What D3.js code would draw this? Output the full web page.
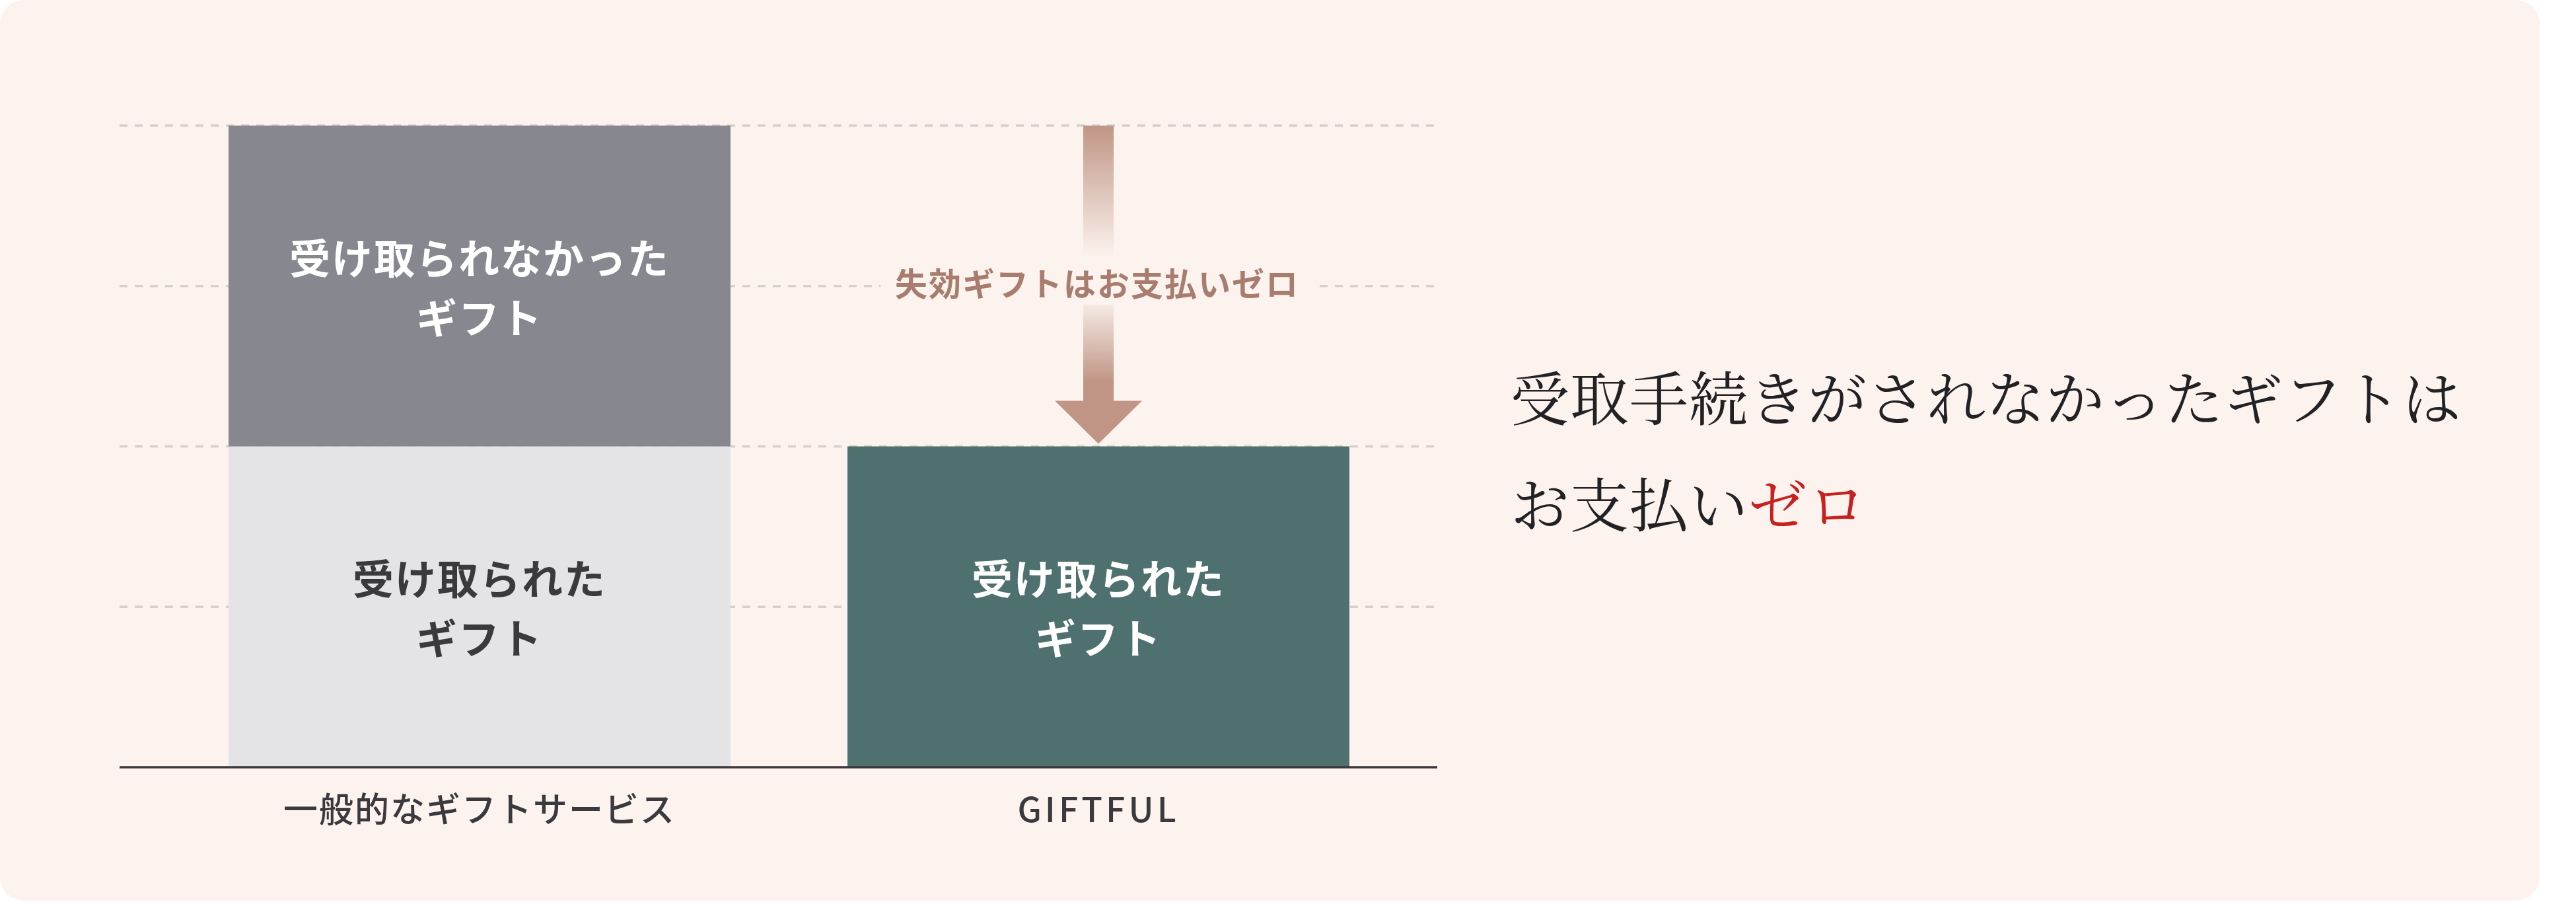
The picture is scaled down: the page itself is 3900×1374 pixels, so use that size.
<!DOCTYPE html>
<html>
<head>
<meta charset="utf-8">
<script src="https://cdn.jsdelivr.net/npm/d3@7"></script>
<style>
  body { margin: 0; background: #ffffff; }
  svg { display: block; }
</style>
</head>
<body>
<svg id="chart" width="3900" height="1374"></svg>
<script>
"use strict";

// data
const categories = ["一般的なギフトサービス", "GIFTFUL"];
const received = [2, 2];
const unreceived = [2, 0];
const gridTicks = [1, 2, 3, 4];
const receivedLabel = ["受け取られた", "ギフト"];
const unreceivedLabel = ["受け取られなかった", "ギフト"];
const arrowLabel = "失効ギフトはお支払いゼロ";
const headline = ["受取手続きがされなかったギフトは", "お支払い"];
const headlineAccent = "ゼロ";

const sansJP = "'Noto Sans CJK JP', 'Noto Sans', sans-serif";
const serifJP = "'Noto Serif CJK JP', 'Noto Sans CJK JP', serif";

const svg = d3.select("#chart");

// card background
svg.append("rect")
    .attr("x", 0).attr("y", 0)
    .attr("width", 3845).attr("height", 1363)
    .attr("rx", 36).attr("ry", 36)
    .attr("fill", "#fcf3ee");

const x = d3.scaleBand()
    .domain(categories)
    .range([346, 2043])
    .paddingInner(0.189)
    .paddingOuter(0);

const y = d3.scaleLinear()
    .domain([0, 4])
    .range([1161, 190]);

const gridLeft = 181, gridRight = 2176;

// dashed grid
svg.append("g")
    .selectAll("line")
    .data(gridTicks)
    .enter().append("line")
    .attr("x1", gridLeft).attr("x2", gridRight)
    .attr("y1", d => y(d)).attr("y2", d => y(d))
    .attr("stroke", "#d6d0cb")
    .attr("stroke-width", 3.5)
    .attr("stroke-dasharray", "12 11");

// stacked bars
const rows = categories.map((c, i) => ({
    cat: c, received: received[i], unreceived: unreceived[i]
}));
const stack = d3.stack().keys(["received", "unreceived"]);
const layers = stack(rows);
const fills = {
    received: ["#e4e4e6", "#4e716f"],
    unreceived: ["#87878f", "#87878f"]
};
const textFills = {
    received: ["#3a393e", "#ffffff"],
    unreceived: ["#ffffff", "#ffffff"]
};
const labels = { received: receivedLabel, unreceived: unreceivedLabel };

layers.forEach((layer) => {
    const key = layer.key;
    const g = svg.append("g").attr("class", "layer-" + key);
    const segs = g.selectAll("g")
        .data(layer.filter(d => d[1] > d[0]))
        .enter().append("g");
    segs.append("rect")
        .attr("x", d => x(d.data.cat))
        .attr("width", x.bandwidth())
        .attr("y", d => y(d[1]))
        .attr("height", d => y(d[0]) - y(d[1]))
        .attr("fill", d => fills[key][categories.indexOf(d.data.cat)]);
    segs.append("text")
        .attr("x", d => x(d.data.cat) + x.bandwidth() / 2)
        .attr("y", d => (y(d[0]) + y(d[1])) / 2)
        .attr("text-anchor", "middle")
        .attr("font-family", sansJP)
        .attr("font-weight", 700)
        .attr("font-size", 62)
        .attr("letter-spacing", 2)
        .attr("fill", d => textFills[key][categories.indexOf(d.data.cat)])
        .selectAll("tspan")
        .data(labels[key])
        .enter().append("tspan")
        .attr("x", function () { return d3.select(this.parentNode).attr("x"); })
        .attr("dy", (d, i) => i === 0 ? -18 : 90)
        .text(d => d);
});

// baseline
svg.append("line")
    .attr("x1", gridLeft).attr("x2", gridRight)
    .attr("y1", y(0)).attr("y2", y(0))
    .attr("stroke", "#3b393d")
    .attr("stroke-width", 3.5);

// category labels
svg.append("g")
    .selectAll("text")
    .data(categories)
    .enter().append("text")
    .attr("x", d => x(d) + x.bandwidth() / 2)
    .attr("y", 1244)
    .attr("text-anchor", "middle")
    .attr("font-family", sansJP)
    .attr("font-weight", 500)
    .attr("font-size", 52)
    .attr("letter-spacing", d => d === "GIFTFUL" ? 5 : 2)
    .attr("fill", "#3a393e")
    .text(d => d);

// arrow from the unreceived top down to GIFTFUL's bar
const ax = x("GIFTFUL") + x.bandwidth() / 2;
const aTop = y(received[0] + unreceived[0]);
const aTip = y(received[1] + unreceived[1]) - 4;
const headH = 65, headW = 132, shaftW = 46;
const headTop = aTip - headH;

const defs = svg.append("defs");
const grad = defs.append("linearGradient")
    .attr("id", "shaftGrad")
    .attr("gradientUnits", "userSpaceOnUse")
    .attr("x1", 0).attr("x2", 0)
    .attr("y1", aTop).attr("y2", headTop);
[[0, 1], [0.48, 0], [0.62, 0], [0.93, 1], [1, 1]].forEach(([o, a]) => {
    grad.append("stop")
        .attr("offset", o)
        .attr("stop-color", "#c09585")
        .attr("stop-opacity", a);
});

svg.append("rect")
    .attr("x", ax - shaftW / 2).attr("y", aTop)
    .attr("width", shaftW).attr("height", headTop - aTop + 1)
    .attr("fill", "url(#shaftGrad)");

svg.append("path")
    .attr("d", d3.line()([[ax - headW / 2, headTop], [ax + headW / 2, headTop], [ax, aTip]]) + "Z")
    .attr("fill", "#c09585");

// arrow label with a background patch over the gridline
const labelY = y(3) - 6;
svg.append("rect")
    .attr("x", ax - 330).attr("y", labelY - 34)
    .attr("width", 660).attr("height", 68)
    .attr("fill", "#fcf3ee");
svg.append("text")
    .attr("x", ax - 2)
    .attr("y", labelY)
    .attr("dominant-baseline", "central")
    .attr("text-anchor", "middle")
    .attr("font-family", sansJP)
    .attr("font-weight", 700)
    .attr("font-size", 49)
    .attr("letter-spacing", 2)
    .attr("fill", "#a87d6f")
    .text(arrowLabel);

// headline
const head = svg.append("g")
    .attr("font-family", serifJP)
    .attr("font-weight", 400)
    .attr("font-size", 89)
    .attr("fill", "#222124");
head.append("text")
    .attr("x", 2287).attr("y", 597)
    .attr("dominant-baseline", "central")
    .attr("letter-spacing", 1)
    .text(headline[0]);
const line2 = head.append("text")
    .attr("x", 2287).attr("y", 758)
    .attr("dominant-baseline", "central")
    .attr("letter-spacing", 1);
line2.append("tspan").text(headline[1]);
line2.append("tspan").attr("fill", "#c8201e").text(headlineAccent);
</script>
</body>
</html>
